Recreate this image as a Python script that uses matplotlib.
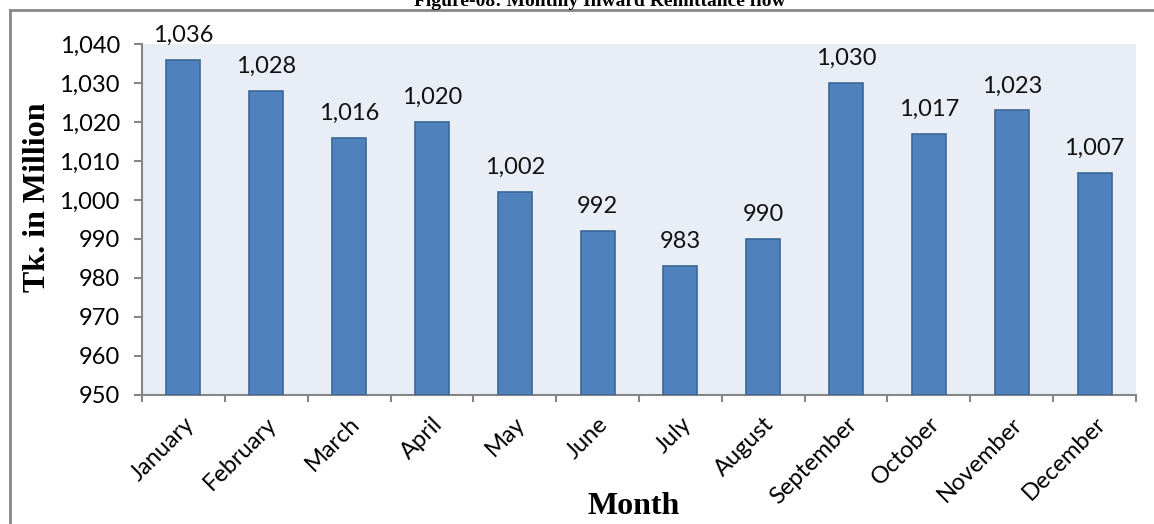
import matplotlib.pyplot as plt
from matplotlib.lines import Line2D
from matplotlib.ticker import FuncFormatter
import numpy as np

months = ['January', 'February', 'March', 'April', 'May', 'June', 'July',
          'August', 'September', 'October', 'November', 'December']
remittance = [1036, 1028, 1016, 1020, 1002, 992, 983, 990, 1030, 1017, 1023, 1007]
y_ticks = list(range(950, 1041, 10))

fig = plt.figure(figsize=(11.54, 5.24), dpi=100)
ax = fig.add_axes([142 / 1154, 1 - 395 / 524, 994 / 1154, 351 / 524])

x = np.arange(len(months))
ax.bar(x, [v - 950 for v in remittance], bottom=950, width=0.41,
       color='#4F81BD', edgecolor='#3B6797', linewidth=1.2, zorder=3)

for xi, v in zip(x, remittance):
    ax.annotate(f'{v:,}', (xi, v), xytext=(0, 10), textcoords='offset points',
                ha='center', va='bottom', fontsize=17, family='Lato', color='#111111')

ax.set_facecolor('#E9EDF5')
ax.set_xlim(-0.5, len(months) - 0.5)
ax.set_ylim(950, 1040)
ax.set_yticks(y_ticks)
ax.yaxis.set_major_formatter(FuncFormatter(lambda v, p: f'{int(v):,}'))

# boundary ticks, labels on the minor ticks at the bar centres
ax.set_xticks(np.arange(-0.5, len(months), 1))
ax.set_xticklabels([])
ax.set_xticks(x, minor=True)
ax.set_xticklabels(months, minor=True, rotation=45, ha='right', rotation_mode='anchor',
                   fontsize=17, family='Lato')
ax.tick_params(axis='x', which='minor', length=0, pad=13)
ax.tick_params(axis='x', which='major', length=5, width=1.5, color='#868686')
ax.tick_params(axis='y', length=6, width=1.5, color='#868686', labelsize=17, pad=10)
for lab in ax.get_yticklabels():
    lab.set_family('Lato')

for s in ['top', 'right']:
    ax.spines[s].set_visible(False)
for s in ['left', 'bottom']:
    ax.spines[s].set_color('#868686')
    ax.spines[s].set_linewidth(1.5)

ax.set_ylabel('Tk. in Million', family='Liberation Serif', fontweight='bold', fontsize=23)
ax.yaxis.set_label_coords(-0.091, 0.564)
ax.set_xlabel('Month', family='Liberation Serif', fontweight='bold', fontsize=23)
ax.xaxis.set_label_coords(0.495, -0.275)

# outer frame of the chart box and the clipped title
fig.add_artist(Line2D([10 / 1154, 10 / 1154], [0, 1 - 10 / 524], transform=fig.transFigure,
                      color='#888888', linewidth=2))
fig.add_artist(Line2D([10 / 1154, 1], [1 - 10 / 524, 1 - 10 / 524], transform=fig.transFigure,
                      color='#888888', linewidth=2))
fig.text(0.52, 1 - 1 / 524, 'Figure-08: Monthly Inward Remittance flow', ha='center', va='center',
         family='Liberation Serif', fontweight='bold', fontsize=14)

fig.savefig('out.png', dpi=100)
